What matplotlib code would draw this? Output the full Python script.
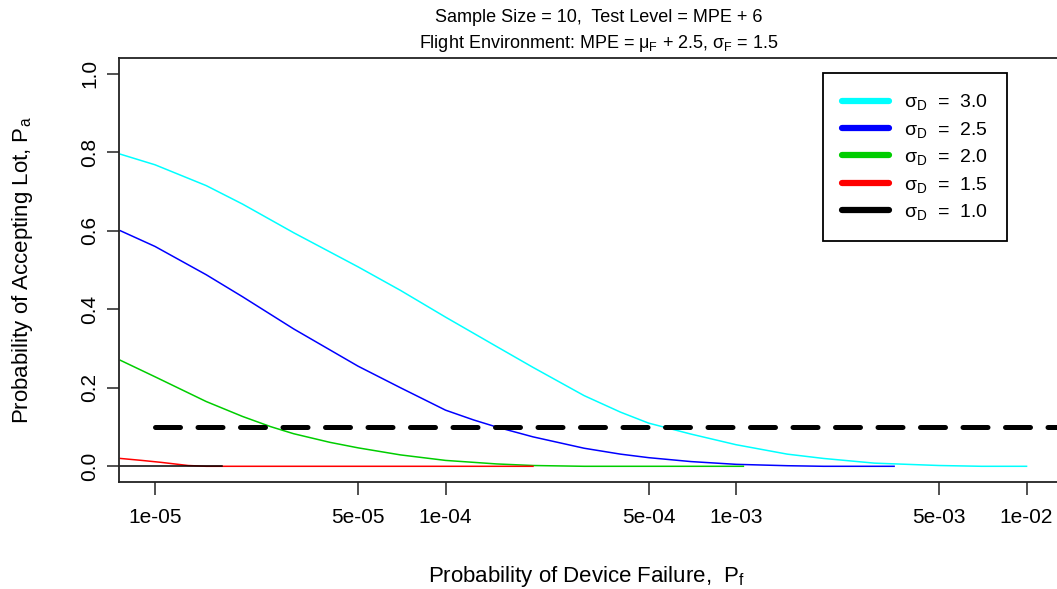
import numpy as np
import matplotlib
matplotlib.use("Agg")
import matplotlib.pyplot as plt
from matplotlib.lines import Line2D

plt.rcParams['font.family'] = ['Liberation Sans', 'DejaVu Sans']
plt.rcParams['mathtext.fontset'] = 'custom'
plt.rcParams['mathtext.rm'] = 'Liberation Sans'
plt.rcParams['mathtext.it'] = 'Liberation Sans'
plt.rcParams['mathtext.sf'] = 'Liberation Sans'

# probability of device failure, P_f
pf = [7.6e-6, 1e-5, 1.5e-5, 2e-5, 3e-5, 5e-5, 7e-5, 1e-4, 1.5e-4, 2e-4,
      3e-4, 4e-4, 5e-4, 7e-4, 1e-3, 1.5e-3, 2e-3, 3e-3, 5e-3, 7e-3, 1e-2]

# probability of accepting the lot, one curve per device sigma
pa_30 = [0.795, 0.768, 0.715, 0.668, 0.595, 0.508, 0.448, 0.380, 0.305, 0.252,
         0.180, 0.138, 0.110, 0.082, 0.055, 0.031, 0.020, 0.008, 0.002, 0.0, 0.0]
pf_25 = [7.6e-6, 1e-5, 1.5e-5, 2e-5, 3e-5, 5e-5, 7e-5, 1e-4, 1.25e-4, 1.5e-4,
         2e-4, 3e-4, 4e-4, 5e-4, 7e-4, 1e-3, 1.5e-3, 2e-3, 3e-3, 3.5e-3]
pa_25 = [0.600, 0.560, 0.488, 0.432, 0.350, 0.255, 0.200, 0.143, 0.118, 0.100,
         0.075, 0.046, 0.031, 0.022, 0.012, 0.005, 0.0015, 0.0, 0.0, 0.0]
pf_20 = [7.6e-6, 1e-5, 1.5e-5, 2e-5, 2.5e-5, 3e-5, 4e-5, 5e-5, 7e-5, 1e-4,
         1.5e-4, 2e-4, 3e-4, 5e-4, 1.06e-3]
pa_20 = [0.270, 0.228, 0.165, 0.127, 0.101, 0.083, 0.061, 0.047, 0.029, 0.015,
         0.006, 0.002, 0.0, 0.0, 0.0]
pf_15 = [7.6e-6, 9e-6, 1.05e-5, 1.3e-5, 1.5e-5, 2e-5, 5e-5, 1e-4, 2e-4]
pa_15 = [0.020, 0.015, 0.010, 0.002, 0.0, 0.0, 0.0, 0.0, 0.0]
pf_10 = [7.6e-6, 1e-5, 1.7e-5]
pa_10 = [0.0, 0.0, 0.0]

curves = [(pf, pa_30, 'cyan', '3.0'),
          (pf_25, pa_25, 'blue', '2.5'),
          (pf_20, pa_20, '#00cd00', '2.0'),
          (pf_15, pa_15, 'red', '1.5'),
          (pf_10, pa_10, 'black', '1.0')]

consumer_risk = 0.1
xticks = [1e-5, 5e-5, 1e-4, 5e-4, 1e-3, 5e-3, 1e-2]
xticklabels = ['1e-05', '5e-05', '1e-04', '5e-04', '1e-03', '5e-03', '1e-02']
yticks = [0.0, 0.2, 0.4, 0.6, 0.8, 1.0]

fig = plt.figure(figsize=(10.57, 5.89), dpi=100)
fig.patch.set_facecolor('white')
ax = fig.add_axes([119 / 1057, 1 - 482 / 589, (1080 - 119) / 1057, (482 - 58) / 589])

for x, y, c, s in curves:
    ax.plot(x, y, color=c, lw=1.1)

# consumer's risk line
ax.plot([1e-5, 0.1], [consumer_risk, consumer_risk], color='black', lw=3.6,
        dashes=(5, 3.5), dash_capstyle='round')

ax.set_xscale('log')
ax.set_xlim(10 ** -5.124, 10 ** -1.816)
ax.set_ylim(-0.04, 1.04)
ax.minorticks_off()
ax.set_xticks(xticks)
ax.set_xticklabels(xticklabels)
ax.set_yticks(yticks)
ax.set_yticklabels(['%.1f' % v for v in yticks], rotation=90, va='center')
ax.tick_params(axis='both', direction='out', length=9, width=1.1, labelsize=15,
               color='#222222')
ax.tick_params(axis='x', pad=10)
ax.tick_params(axis='y', pad=5)
for sp in ax.spines.values():
    sp.set_linewidth(1.3)
    sp.set_color('#222222')

ax.set_xlabel(r'Probability of Device Failure,  P$_\mathrm{f}$', fontsize=16)
ax.xaxis.set_label_coords(0.486, -0.222)
ax.xaxis.label.set_va('center')
ax.set_ylabel(r'Probability of Accepting Lot, P$_\mathrm{a}$', fontsize=16)
ax.yaxis.set_label_coords(-0.1, 0.5)
ax.yaxis.label.set_va('center')

fig.text(0.5662, 1 - 17 / 589, 'Sample Size = 10,  Test Level = MPE + 6',
         ha='center', va='center', fontsize=13)
fig.text(0.5662, 1 - 44 / 589,
         r'Flight Environment: MPE = $\mu_\mathrm{F}$ + 2.5, $\sigma_\mathrm{F}$ = 1.5',
         ha='center', va='center', fontsize=13)

handles = [Line2D([], [], color=c, lw=4.5, solid_capstyle='round') for _, _, c, _ in curves]
labels = [r'$\sigma_\mathrm{D}$  =  %s' % s for _, _, _, s in curves]
leg = ax.legend(handles, labels, loc='upper left',
                bbox_to_anchor=(823 / 1057, 1 - 73 / 589), bbox_transform=fig.transFigure,
                fontsize=14, frameon=True, fancybox=False, framealpha=1,
                edgecolor='black', borderaxespad=0, borderpad=1.0,
                labelspacing=0.38, handlelength=2.4, handletextpad=0.75)
leg.get_frame().set_linewidth(1.3)

fig.savefig('out.png', dpi=100)
